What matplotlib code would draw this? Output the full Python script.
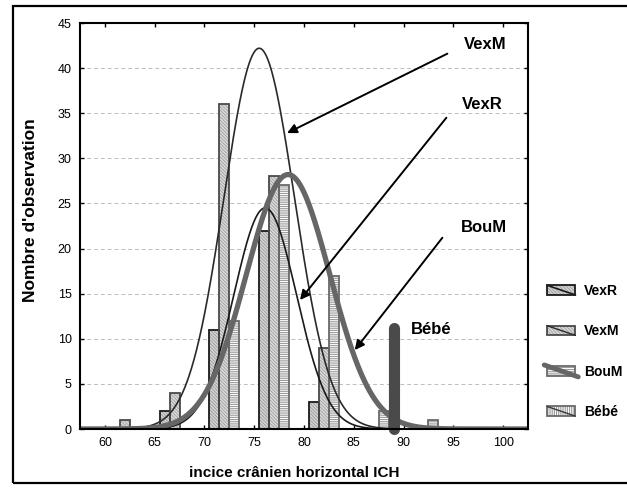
import numpy as np
import matplotlib
matplotlib.use('Agg')
import matplotlib.pyplot as plt
from matplotlib.patches import Rectangle
from matplotlib.lines import Line2D
from matplotlib.legend_handler import HandlerBase

plt.rcParams['font.family'] = ['Liberation Sans', 'DejaVu Sans']
plt.rcParams['hatch.linewidth'] = 0.6

# Données
groupes = [62, 67, 72, 77, 82, 87, 92]
vexr = [0, 2, 11, 22, 3, 0, 0]
vexm = [1, 4, 36, 28, 9, 0, 0]
boum = [0, 0, 12, 27, 17, 2, 1]
bebe = [0, 0, 0, 0, 0, 1, 0]

# courbes normales ajustées (hauteur, moyenne, écart-type)
noms = ['VexR', 'VexM', 'BouM', 'Bébé']
pics = [24.5, 42.2, 28.2, 11.2]
moyennes = [76.1, 75.5, 78.4, 89.0]
ecarts = [3.15, 3.55, 4.2, 0.0]

fig = plt.figure(figsize=(6.27, 4.88), dpi=100)
ax = fig.add_axes([80/627, 1-429/488, 448/627, 406/488])

g = np.array(groupes, dtype=float)

def barres(x, h, face, hatchcol, hatch, edge):
    ax.bar(x, h, width=1.0, color=face, edgecolor=hatchcol, hatch=hatch, lw=0, zorder=2)
    ax.bar(x, h, width=1.0, fill=False, edgecolor=edge, lw=1.3, zorder=3)

barres(g - 1, vexr, '#d4d4d4', '#9a9a9a', '\\' * 10, '#1a1a1a')
barres(g, vexm, '#dadada', '#a0a0a0', '\\' * 10, '#4a4a4a')
barres(g + 1, boum, 'white', '#8a8a8a', '-' * 9, '#6a6a6a')
barres(g + 2, bebe, 'white', '#8a8a8a', '|' * 9, '#6a6a6a')

x = np.linspace(57.5, 102.5, 2000)
def courbe(i):
    return pics[i] * np.exp(-0.5 * ((x - moyennes[i]) / ecarts[i]) ** 2)

ax.plot(x, courbe(0), color='#1a1a1a', lw=1.2, zorder=4)
ax.plot(x, courbe(1), color='#2a2a2a', lw=1.2, zorder=4)
ax.plot(x, courbe(2), color='#666666', lw=3.8, zorder=5)
# Bébé : une seule observation, écart-type nul -> trait vertical
ax.plot([moyennes[3], moyennes[3]], [0, pics[3]], color='#4a4a4a', lw=8, zorder=6,
        solid_capstyle='round', clip_on=False)

ax.set_xlim(57.5, 102.5)
ax.set_ylim(0, 45)
ax.set_xticks(np.arange(60, 101, 5))
ax.set_yticks(np.arange(0, 46, 5))
ax.tick_params(direction='in', length=3, width=1, top=True, right=True,
               labelsize=9, pad=6)
ax.yaxis.grid(True, ls=(0, (4, 3)), color='#bdbdbd', lw=0.7)
ax.set_axisbelow(True)
for s in ax.spines.values():
    s.set_linewidth(1.5)
    s.set_zorder(7)

ax.set_xlabel('incice crânien horizontal ICH', fontsize=11, fontweight='bold')
ax.set_ylabel("Nombre d'observation", fontsize=12.5, fontweight='bold')
ax.xaxis.set_label_coords(0.478, -0.09)
ax.yaxis.set_label_coords(-0.094, 0.54)

# étiquettes et flèches
fl = dict(arrowstyle='-|>', color='black', lw=1.4, mutation_scale=14, shrinkA=0, shrinkB=0)
ax.annotate('', xy=(78.3, 32.8), xytext=(94.4, 41.6), arrowprops=fl, zorder=8)
ax.annotate('', xy=(79.6, 14.3), xytext=(94.3, 34.5), arrowprops=fl, zorder=8)
ax.annotate('', xy=(85.1, 8.75), xytext=(93.9, 21.2), arrowprops=fl, zorder=8)
ax.text(98.2, 42.6, 'VexM', fontsize=12, fontweight='bold', ha='center', va='center')
ax.text(97.9, 36.0, 'VexR', fontsize=12, fontweight='bold', ha='center', va='center')
ax.text(98.1, 22.3, 'BouM', fontsize=12, fontweight='bold', ha='center', va='center')
ax.text(92.75, 11.0, 'Bébé', fontsize=12, fontweight='bold', ha='center', va='center')

# légende : boîte hachurée traversée par la courbe
class Cle:
    def __init__(self, face, hcol, hatch, edge, lcol, lw):
        self.face, self.hcol, self.hatch = face, hcol, hatch
        self.edge, self.lcol, self.lw = edge, lcol, lw

class CleHandler(HandlerBase):
    def create_artists(self, legend, k, xd, yd, w, h, fontsize, trans):
        x0, y0 = -xd, -yd
        fond = Rectangle((x0, y0), w, h, facecolor=k.face, edgecolor=k.hcol,
                         hatch=k.hatch, lw=0, transform=trans)
        cadre = Rectangle((x0, y0), w, h, fill=False, edgecolor=k.edge,
                          lw=1.3, transform=trans)
        d = 2 if k.lw > 2 else 0
        trait = Line2D([x0 - d, x0 + w + d], [y0 + h + d * 0.4, y0 - d * 0.4],
                       color=k.lcol, lw=k.lw, solid_capstyle='round', transform=trans)
        return [fond, cadre, trait]

cles = [Cle('#d4d4d4', '#9a9a9a', '\\' * 10, '#1a1a1a', '#1a1a1a', 1.2),
        Cle('#dadada', '#a0a0a0', '\\' * 10, '#4a4a4a', '#2a2a2a', 1.0),
        Cle('white', '#8a8a8a', '-' * 9, '#6a6a6a', '#666666', 3.5),
        Cle('white', '#8a8a8a', '|' * 9, '#6a6a6a', '#3a3a3a', 1.0)]
fig.legend(cles, noms, handler_map={Cle: CleHandler()}, loc='upper left',
           bbox_to_anchor=(547/627, 1-284/488), frameon=False,
           prop=dict(size=10, weight='bold'), handlelength=2.05, handleheight=0.7,
           handletextpad=0.6, labelspacing=1.9, borderpad=0, borderaxespad=0)

# cadre extérieur
fig.patches.append(Rectangle((12.5/627, 1-483/488), 700/627, 477/488, fill=False,
                             edgecolor='black', lw=1.6, transform=fig.transFigure))

fig.savefig('out.png', dpi=100)
